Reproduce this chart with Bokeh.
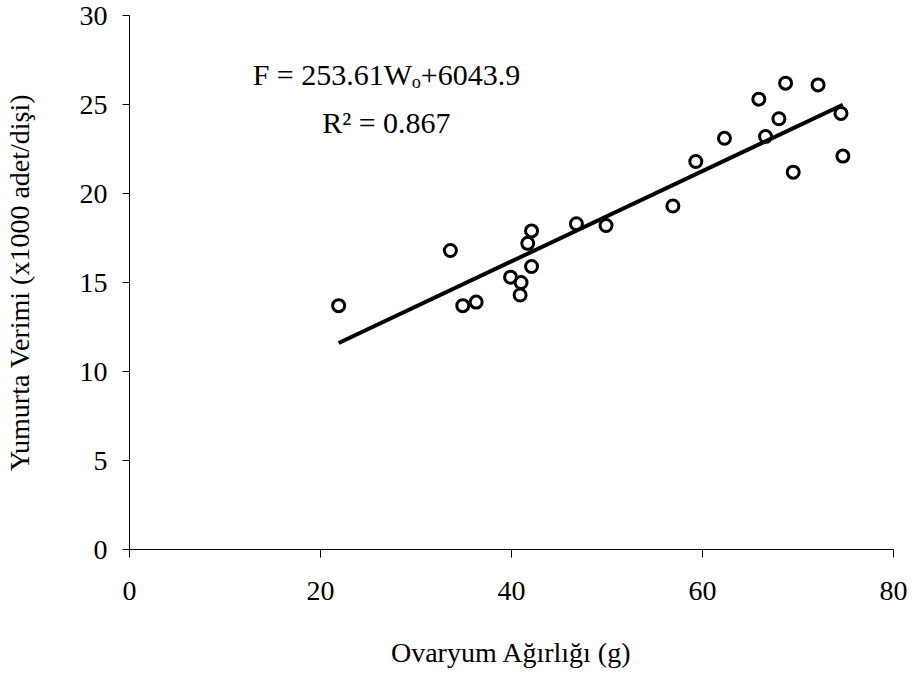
from bokeh.plotting import figure
from bokeh.models import Range1d, FixedTicker, Label, ColumnDataSource
from bokeh.embed import file_html
from bokeh.resources import INLINE

# ---- data ----
ovary_weight = [21.9, 33.6, 34.9, 36.3, 39.9, 41.0, 40.9, 41.7, 42.1, 42.1,
                46.8, 49.9, 56.9, 59.3, 62.3, 65.9, 66.6, 68.0, 68.7, 69.5,
                72.1, 74.5, 74.7]
egg_yield = [13.7, 16.8, 13.7, 13.9, 15.3, 15.0, 14.3, 17.2, 17.9, 15.9,
             18.3, 18.2, 19.3, 21.8, 23.1, 25.3, 23.2, 24.2, 26.2, 21.2,
             26.1, 24.5, 22.1]

# regression F = 253.61 Wo + 6043.9  (eggs), plotted in thousands
slope = 253.61
intercept = 6043.9
equation_text = "F = 253.61W\u2092+6043.9"
r2_text = "R\u00b2 = 0.867"

x_ticks = [0, 20, 40, 60, 80]
y_ticks = [0, 5, 10, 15, 20, 25, 30]

x_title = "Ovaryum Ağırlığı (g)"
y_title = "Yumurta Verimi (x1000 adet/dişi)"

FONT = "Liberation Serif"

fit_x = [min(ovary_weight), max(ovary_weight)]
fit_y = [(slope * w + intercept) / 1000.0 for w in fit_x]

p = figure(width=912, height=675, output_backend="svg", toolbar_location=None,
           x_range=Range1d(0, 80), y_range=Range1d(0, 30),
           min_border_left=128, min_border_right=19,
           min_border_top=15, min_border_bottom=126)
p.outline_line_color = None
p.xgrid.visible = False
p.ygrid.visible = False
p.background_fill_color = "white"
p.border_fill_color = "white"

src = ColumnDataSource(dict(x=ovary_weight, y=egg_yield))
p.line(fit_x, fit_y, line_color="black", line_width=4)
p.scatter("x", "y", source=src, size=12, marker="circle",
          fill_color=None, line_color="black", line_width=3)

for ax in (p.xaxis[0], p.yaxis[0]):
    ax.axis_line_color = "black"
    ax.axis_line_width = 1
    ax.major_tick_line_color = "black"
    ax.major_tick_in = 0
    ax.minor_tick_line_color = None
    ax.major_label_text_font = FONT
    ax.major_label_text_font_size = "28px"
    ax.major_label_text_color = "black"
    ax.axis_label_text_font = FONT
    ax.axis_label_text_font_size = "28px"
    ax.axis_label_text_font_style = "normal"
    ax.axis_label_text_color = "black"

p.xaxis[0].ticker = FixedTicker(ticks=x_ticks)
p.yaxis[0].ticker = FixedTicker(ticks=y_ticks)
p.xaxis[0].major_tick_out = 8
p.yaxis[0].major_tick_out = 7
p.xaxis[0].major_label_standoff = 24
p.yaxis[0].major_label_standoff = 15
p.xaxis[0].axis_label = x_title
p.yaxis[0].axis_label = y_title
p.xaxis[0].axis_label_standoff = 34
p.yaxis[0].axis_label_standoff = 42

eq_x = 26.9
p.add_layout(Label(x=eq_x, y=26.7, text=equation_text, text_align="center",
                   text_baseline="alphabetic", text_font=FONT,
                   text_font_size="30px", text_color="black"))
p.add_layout(Label(x=eq_x, y=24.0, text=r2_text, text_align="center",
                   text_baseline="alphabetic", text_font=FONT,
                   text_font_size="30px", text_color="black"))

open("out.html", "w").write(file_html(p, INLINE))
